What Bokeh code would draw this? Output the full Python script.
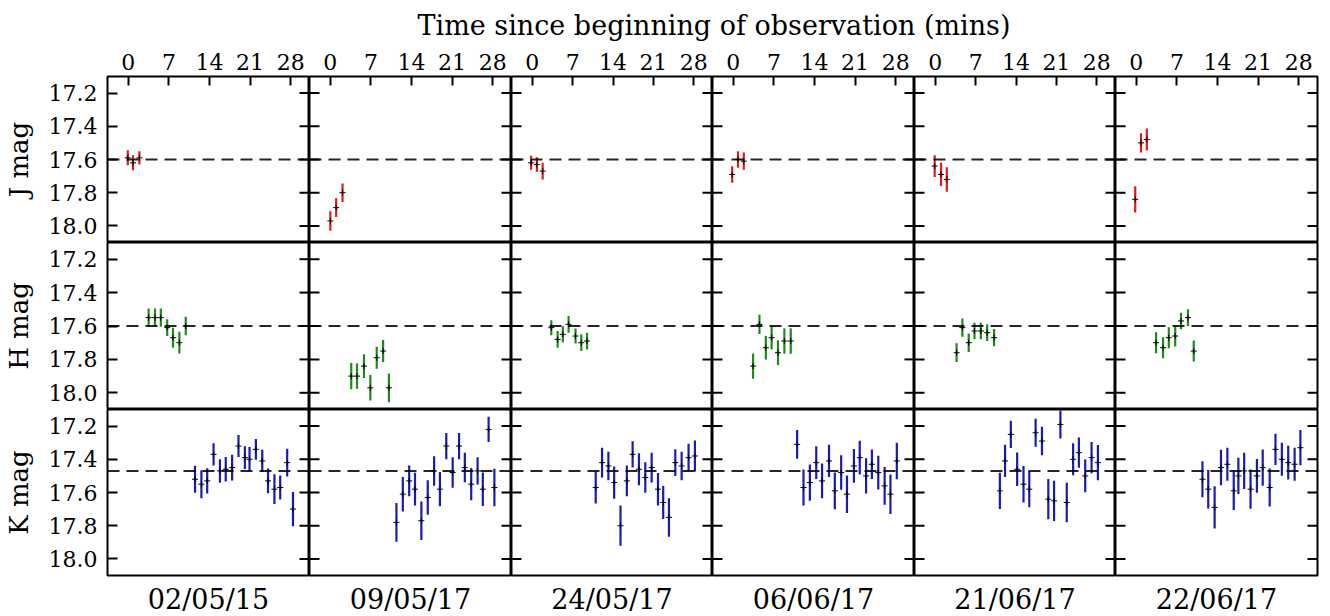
from bokeh.plotting import figure
from bokeh.layouts import column, gridplot
from bokeh.models import Range1d, LinearAxis, FixedTicker, PrintfTickFormatter, Span, ColumnDataSource
from bokeh.embed import file_html
from bokeh.resources import INLINE
from bokeh.core.properties import value
import math

# ---------------- data ----------------
dates = ["02/05/15", "09/05/17", "24/05/17", "06/06/17", "21/06/17", "22/06/17"]
band_labels = ["J mag", "H mag", "K mag"]
ref_mag = [17.6, 17.6, 17.47]
x_ticks = [0, 7, 14, 21, 28]
y_ticks = [17.2, 17.4, 17.6, 17.8, 18.0]
title_text = "Time since beginning of observation (mins)"

j_time = [[-0.1, 0.8, 1.9], [0.0, 1.0, 2.1], [-0.2, 0.8, 1.8],
          [-0.2, 0.8, 1.8], [-0.1, 1.0, 2.0], [-0.2, 0.8, 1.8]]
j_mag = [[17.59, 17.62, 17.59], [17.97, 17.89, 17.80], [17.62, 17.63, 17.67],
         [17.69, 17.60, 17.61], [17.64, 17.69, 17.72], [17.84, 17.50, 17.48]]
j_err = [[0.045, 0.045, 0.04], [0.059, 0.056, 0.056], [0.042, 0.044, 0.05],
         [0.05, 0.05, 0.052], [0.066, 0.07, 0.074], [0.079, 0.058, 0.066]]

h_time = [[3.5, 4.6, 5.6, 6.7, 7.7, 8.8, 9.9], [3.6, 4.6, 5.8, 6.9, 8.0, 9.1, 10.1],
          [3.3, 4.4, 5.3, 6.3, 7.5, 8.5, 9.5], [3.4, 4.5, 5.6, 6.6, 7.7, 8.8, 9.9],
          [3.7, 4.7, 5.8, 6.8, 7.9, 9.0, 10.2], [3.4, 4.6, 5.6, 6.7, 7.7, 8.9, 9.9]]
h_mag = [[17.55, 17.55, 17.55, 17.61, 17.67, 17.70, 17.60],
         [17.90, 17.90, 17.84, 17.97, 17.79, 17.75, 17.97],
         [17.61, 17.68, 17.65, 17.59, 17.66, 17.70, 17.69],
         [17.84, 17.59, 17.73, 17.67, 17.76, 17.69, 17.69],
         [17.76, 17.61, 17.70, 17.63, 17.63, 17.64, 17.67],
         [17.70, 17.73, 17.67, 17.66, 17.57, 17.55, 17.75]]
h_err = [[0.055, 0.055, 0.055, 0.05, 0.06, 0.065, 0.055],
         [0.078, 0.075, 0.071, 0.076, 0.066, 0.066, 0.086],
         [0.045, 0.05, 0.048, 0.05, 0.045, 0.05, 0.05],
         [0.076, 0.058, 0.071, 0.07, 0.074, 0.076, 0.076],
         [0.056, 0.055, 0.055, 0.05, 0.05, 0.05, 0.052],
         [0.063, 0.063, 0.063, 0.063, 0.05, 0.05, 0.063]]

k_time = [[11.5, 12.6, 13.6, 14.7, 15.8, 16.8, 17.9, 19.0, 20.1, 20.9, 22.0, 23.1, 24.1, 25.2, 26.2, 27.4, 28.4],
          [11.4, 12.5, 13.6, 14.6, 15.7, 16.8, 17.9, 18.9, 20.0, 21.1, 22.2, 23.2, 24.3, 25.4, 26.3, 27.3, 28.3],
          [11.0, 12.1, 13.2, 14.2, 15.3, 16.4, 17.4, 18.5, 19.6, 20.7, 21.8, 22.7, 23.7, 24.8, 25.9, 27.1, 28.2],
          [11.0, 12.1, 13.2, 14.3, 15.3, 16.5, 17.5, 18.6, 19.6, 20.8, 21.8, 22.9, 23.9, 25.0, 26.1, 27.1, 28.2],
          [11.2, 12.1, 13.1, 14.2, 15.3, 16.3, 17.4, 18.5, 19.6, 20.6, 21.7, 22.8, 23.9, 24.9, 26.0, 27.1, 28.2],
          [11.4, 12.4, 13.5, 14.6, 15.7, 16.8, 17.6, 18.6, 19.7, 20.8, 21.8, 23.0, 24.0, 25.1, 26.2, 27.3, 28.3]]
k_mag = [[17.52, 17.55, 17.53, 17.37, 17.47, 17.46, 17.45, 17.32, 17.39, 17.40, 17.34, 17.41, 17.53, 17.58, 17.57, 17.42, 17.70],
         [17.78, 17.61, 17.53, 17.58, 17.77, 17.63, 17.47, 17.58, 17.32, 17.48, 17.32, 17.45, 17.55, 17.47, 17.58, 17.22, 17.57],
         [17.57, 17.42, 17.44, 17.54, 17.80, 17.53, 17.37, 17.46, 17.51, 17.45, 17.58, 17.66, 17.75, 17.42, 17.44, 17.39, 17.38],
         [17.31, 17.57, 17.54, 17.42, 17.53, 17.41, 17.59, 17.48, 17.61, 17.44, 17.39, 17.50, 17.43, 17.48, 17.56, 17.61, 17.41],
         [17.59, 17.41, 17.25, 17.46, 17.55, 17.58, 17.24, 17.29, 17.64, 17.65, 17.19, 17.66, 17.40, 17.36, 17.50, 17.39, 17.42],
         [17.52, 17.58, 17.69, 17.45, 17.43, 17.59, 17.50, 17.47, 17.58, 17.50, 17.45, 17.57, 17.34, 17.40, 17.42, 17.43, 17.33]]
k_err = [[0.081, 0.084, 0.076, 0.067, 0.071, 0.074, 0.077, 0.066, 0.069, 0.074, 0.062, 0.067, 0.075, 0.09, 0.072, 0.084, 0.103],
         [0.117, 0.104, 0.093, 0.099, 0.116, 0.104, 0.089, 0.103, 0.079, 0.092, 0.079, 0.089, 0.097, 0.082, 0.101, 0.076, 0.113],
         [0.097, 0.089, 0.086, 0.097, 0.121, 0.092, 0.079, 0.097, 0.092, 0.09, 0.098, 0.099, 0.116, 0.081, 0.086, 0.084, 0.094],
         [0.086, 0.109, 0.109, 0.099, 0.105, 0.097, 0.111, 0.104, 0.113, 0.102, 0.102, 0.106, 0.089, 0.102, 0.114, 0.119, 0.11],
         [0.109, 0.097, 0.082, 0.101, 0.11, 0.109, 0.085, 0.086, 0.121, 0.121, 0.084, 0.119, 0.096, 0.091, 0.099, 0.094, 0.106],
         [0.109, 0.116, 0.127, 0.107, 0.099, 0.116, 0.109, 0.109, 0.118, 0.102, 0.109, 0.115, 0.094, 0.099, 0.101, 0.099, 0.106]]

band_time = [j_time, h_time, k_time]
band_mag = [j_mag, h_mag, k_mag]
band_err = [j_err, h_err, k_err]
band_color = ["#e01b1b", "#1c8c1c", "#1a1ab8"]

# ---------------- style ----------------
FONT = "DejaVu Serif"
FW = [202, 202, 201, 202, 201, 202]
FH = [166, 167, 166]
LEFT = 100
TOP = 33
BOTTOM = 39
TH = 43
X_RANGE = (-3.6, 31.25)
Y_RANGE = (18.1, 17.1)


def base_axis(ax):
    ax.axis_line_color = None
    ax.minor_tick_line_color = None
    ax.major_tick_line_color = "black"
    ax.major_tick_line_width = 2
    ax.major_tick_out = 0


rows = []
for r in range(3):
    row_figs = []
    for c in range(6):
        p = figure(frame_width=FW[c], frame_height=FH[r],
                   x_range=Range1d(*X_RANGE), y_range=Range1d(*Y_RANGE),
                   x_axis_location=None, y_axis_location=None,
                   toolbar_location=None, output_backend="svg",
                   min_border_left=LEFT if c == 0 else 0,
                   min_border_right=2 if c == 5 else 0,
                   min_border_top=TOP if r == 0 else 0,
                   min_border_bottom=BOTTOM if r == 2 else 0,
                   outline_line_color="black", outline_line_width=2,
                   background_fill_color="white", border_fill_color="white")
        p.grid.visible = False

        if c == 0:
            la = LinearAxis(ticker=FixedTicker(ticks=y_ticks),
                            formatter=PrintfTickFormatter(format="%.1f"))
            base_axis(la)
            la.major_tick_in = 10
            la.major_label_text_font = FONT
            la.major_label_text_font_size = "22px"
            la.major_label_text_color = "black"
            la.major_label_standoff = 10
            la.axis_label = band_labels[r]
            la.axis_label_text_font = FONT
            la.axis_label_text_font_size = "26px"
            la.axis_label_text_font_style = "normal"
            la.axis_label_text_color = "black"
            la.axis_label_standoff = 12
            p.add_layout(la, "left")
        else:
            # inward ticks on the left edge
            p.ray(x=[X_RANGE[0]] * len(y_ticks), y=y_ticks, length=10, length_units="screen",
                  angle=0, line_color="black", line_width=2)
        # inward ticks on the right edge
        p.ray(x=[X_RANGE[1]] * len(y_ticks), y=y_ticks, length=10, length_units="screen",
              angle=math.pi, line_color="black", line_width=2)

        if r == 0:
            ta = LinearAxis(ticker=FixedTicker(ticks=x_ticks))
            base_axis(ta)
            ta.major_tick_in = 9
            ta.major_label_text_font = FONT
            ta.major_label_text_font_size = "22px"
            ta.major_label_text_color = "black"
            ta.major_label_standoff = 7
            p.add_layout(ta, "above")
        if r == 2:
            ba = LinearAxis(ticker=FixedTicker(ticks=[]))
            base_axis(ba)
            ba.major_label_standoff = 0
            ba.axis_label = dates[c]
            ba.axis_label_text_font = FONT
            ba.axis_label_text_font_size = "27px"
            ba.axis_label_text_font_style = "normal"
            ba.axis_label_text_color = "black"
            ba.axis_label_standoff = 8
            p.add_layout(ba, "below")

        p.add_layout(Span(location=ref_mag[r], dimension="width", line_color="black",
                          line_alpha=0.85, line_width=2, line_dash="12 7"))

        t = band_time[r][c]
        m = band_mag[r][c]
        e = band_err[r][c]
        src = ColumnDataSource(dict(t=t, m=m,
                                    lo=[mi - ei for mi, ei in zip(m, e)],
                                    hi=[mi + ei for mi, ei in zip(m, e)]))
        p.segment(x0="t", y0="lo", x1="t", y1="hi", source=src,
                  line_color=band_color[r], line_width=2.2)
        p.scatter(x="t", y="m", source=src, marker="cross", size=6,
                  line_color="black", line_width=1)
        row_figs.append(p)
    rows.append(row_figs)

grid = gridplot(rows, toolbar_location=None)

tf = figure(width=LEFT + sum(FW) + 2, height=TH, x_range=Range1d(0, 1), y_range=Range1d(0, 1),
            x_axis_location=None, y_axis_location=None, toolbar_location=None,
            output_backend="svg", min_border_left=LEFT, min_border_right=2,
            min_border_top=0, min_border_bottom=0, outline_line_color=None)
tf.grid.visible = False
tf.text(x=[0.507], y=[0.42], text=[title_text], text_align="center", text_baseline="alphabetic",
        text_font=value(FONT), text_font_size="27px", text_color="black")

layout = column(tf, grid)
open("out.html", "w").write(file_html(layout, INLINE))
